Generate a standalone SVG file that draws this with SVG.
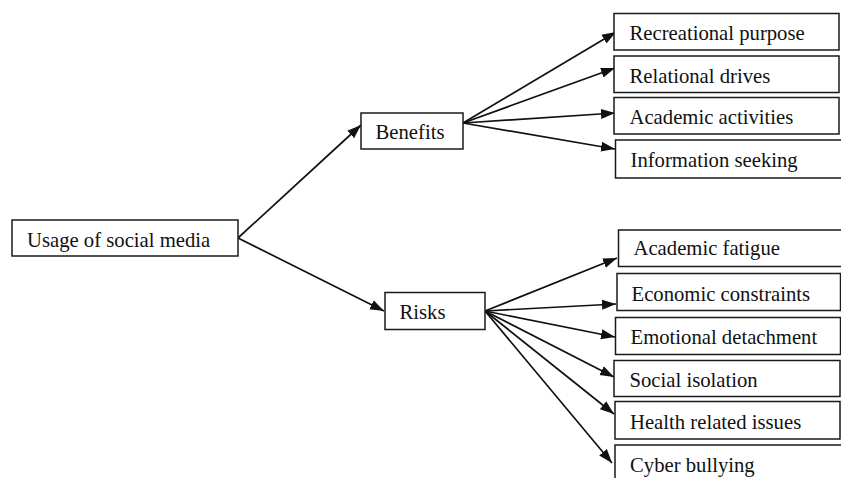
<svg xmlns="http://www.w3.org/2000/svg" width="841" height="478" viewBox="0 0 841 478">
<style>
.box{fill:#fff;stroke:#1a1a1a;stroke-width:1.5}
.t{font-family:"Liberation Serif","Times New Roman",serif;font-size:20.7px;fill:#111}
.c{stroke:#111;stroke-width:1.7;fill:none;marker-end:url(#ah)}
</style>
<defs>
<marker id="ah" markerUnits="userSpaceOnUse" markerWidth="16" markerHeight="12" refX="14" refY="5.5" orient="auto">
<path d="M0,0.5 L14,5.5 L0,10.5 z" fill="#111"/>
</marker>
</defs>
<rect width="841" height="478" fill="#fff"/>
<g id="connectors">
<line class="c" x1="238" y1="238" x2="361" y2="125"/>
<line class="c" x1="238" y1="238" x2="384" y2="311"/>
<line class="c" x1="463" y1="123" x2="616" y2="32"/>
<line class="c" x1="463" y1="123" x2="615" y2="68"/>
<line class="c" x1="463" y1="123" x2="615" y2="113"/>
<line class="c" x1="463" y1="123" x2="615" y2="149"/>
<line class="c" x1="485" y1="311" x2="617" y2="258"/>
<line class="c" x1="485" y1="311" x2="616" y2="304"/>
<line class="c" x1="485" y1="311" x2="615" y2="337"/>
<line class="c" x1="485" y1="311" x2="614" y2="377"/>
<line class="c" x1="485" y1="311" x2="614" y2="414"/>
<line class="c" x1="485" y1="311" x2="612" y2="463"/>
</g>
<g id="usage"><rect class="box" x="12" y="220" width="226" height="36"/><text class="t" x="27" y="246.5">Usage of social media</text></g>
<g id="benefits"><rect class="box" x="361" y="113" width="102" height="36"/><text class="t" x="375.5" y="138.5">Benefits</text></g>
<g id="risks"><rect class="box" x="385" y="292.5" width="100" height="37"/><text class="t" x="399.5" y="318.5">Risks</text></g>
<g id="recreational"><rect class="box" x="614" y="13.5" width="225" height="36.5"/><text class="t" x="629.5" y="40">Recreational purpose</text></g>
<g id="relational"><rect class="box" x="614" y="56" width="225" height="36.5"/><text class="t" x="629.5" y="82.5">Relational drives</text></g>
<g id="academic-activities"><rect class="box" x="614" y="97.5" width="225" height="36.5"/><text class="t" x="629.5" y="124">Academic activities</text></g>
<g id="information"><rect class="box" x="615.5" y="140" width="227" height="38"/><text class="t" x="630.5" y="166.5">Information seeking</text></g>
<g id="academic-fatigue"><rect class="box" x="618.5" y="230" width="225" height="36.5"/><text class="t" x="633.5" y="255">Academic fatigue</text></g>
<g id="economic"><rect class="box" x="617" y="273.5" width="223.5" height="37"/><text class="t" x="631.5" y="300.5">Economic constraints</text></g>
<g id="emotional"><rect class="box" x="615.5" y="317.5" width="225" height="37"/><text class="t" x="630.5" y="344">Emotional detachment</text></g>
<g id="social"><rect class="box" x="614" y="360.5" width="226" height="36"/><text class="t" x="629.5" y="386.5">Social isolation</text></g>
<g id="health"><rect class="box" x="615" y="401.5" width="225" height="37.5"/><text class="t" x="630" y="428.5">Health related issues</text></g>
<g id="cyber"><rect class="box" x="615" y="445" width="227" height="40"/><text class="t" x="630" y="471.5">Cyber bullying</text></g>
</svg>
